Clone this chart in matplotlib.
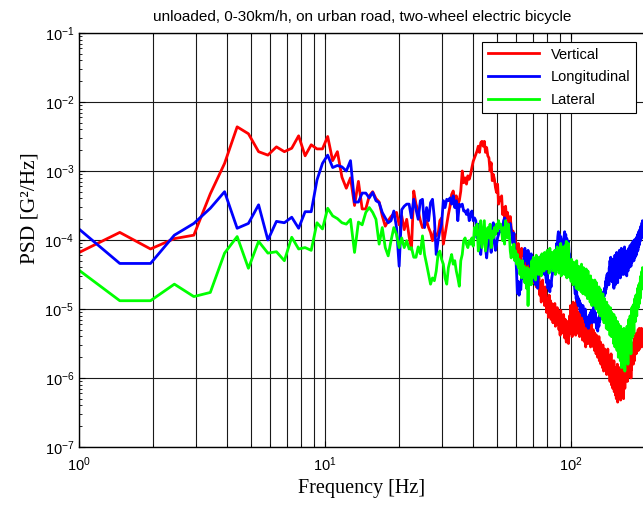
import numpy as np
import matplotlib
matplotlib.use("Agg")
import matplotlib.pyplot as plt

plt.rcParams['font.family'] = ['Liberation Sans', 'DejaVu Sans']
plt.rcParams['mathtext.default'] = 'regular'

# frequency bins: k * df, k = 2..401, df = 500/1024 Hz
df = 500 / 1024
k_bins = np.arange(2, 402)

# log10(PSD), 10 bins per row
vertical_log = [
    -4.20, -3.89, -4.13, -3.98, -3.93, -3.33, -2.89, -2.36, -2.46, -2.72,
    -2.77, -2.65, -2.72, -2.67, -2.49, -2.78, -2.62, -2.68, -2.68, -2.50,
    -2.85, -2.72, -3.09, -3.25, -3.10, -3.50, -3.15, -3.55, -3.55, -3.36,
    -3.30, -3.40, -3.45, -3.65, -3.80, -3.72, -3.66, -3.62, -3.60, -3.78,
    -3.65, -3.85, -3.70, -3.95, -4.14, -3.29, -3.48, -3.58, -3.72, -3.82,
    -3.80, -3.72, -3.82, -3.89, -4.01, -3.87, -3.94, -3.92, -3.72, -3.68,
    -4.06, -3.92, -3.77, -3.63, -3.51, -3.34, -3.29, -3.43, -3.36, -3.48,
    -3.43, -3.29, -3.00, -3.17, -3.10, -3.19, -3.07, -3.12, -3.05, -2.95,
    -2.86, -2.81, -2.76, -2.71, -2.64, -2.73, -2.59, -2.57, -2.64, -2.57,
    -2.73, -2.66, -2.78, -2.81, -3.00, -2.88, -3.14, -3.05, -3.12, -3.24,
    -3.31, -3.19, -3.48, -3.39, -3.43, -3.36, -3.63, -3.53, -3.70, -3.51,
    -3.68, -3.60, -3.72, -3.77, -3.66, -3.82, -3.94, -3.87, -4.01, -3.92,
    -4.10, -4.28, -4.15, -4.05, -4.25, -4.18, -4.30, -4.12, -4.22, -4.15,
    -4.22, -4.40, -4.18, -4.35, -4.28, -4.45, -4.20, -4.38, -4.30, -4.48,
    -4.30, -4.55, -4.40, -4.62, -4.35, -4.50, -4.68, -4.42, -4.58, -4.45,
    -4.55, -4.80, -4.62, -4.90, -4.70, -4.58, -4.85, -4.72, -4.95, -4.68,
    -4.78, -5.05, -4.85, -4.95, -5.12, -4.80, -5.00, -4.88, -5.15, -4.92,
    -4.95, -5.20, -5.00, -5.10, -4.92, -5.25, -5.05, -5.15, -4.98, -5.22,
    -5.05, -5.30, -5.10, -5.38, -5.02, -5.20, -5.35, -5.12, -5.25, -5.08,
    -5.20, -5.42, -5.15, -5.35, -5.48, -5.25, -5.40, -5.18, -5.50, -5.30,
    -5.10, -5.35, -4.95, -5.25, -5.05, -5.40, -5.15, -4.90, -5.30, -5.12,
    -5.25, -5.00, -5.38, -5.10, -4.85, -5.20, -5.35, -5.05, -5.30, -5.15,
    -5.40, -5.15, -5.30, -5.05, -5.35, -5.20, -5.45, -5.18, -5.32, -5.10,
    -5.25, -5.48, -5.30, -5.55, -5.22, -5.40, -5.50, -5.28, -5.45, -5.35,
    -5.50, -5.25, -5.45, -5.30, -5.55, -5.35, -5.20, -5.48, -5.38, -5.52,
    -5.30, -5.55, -5.40, -5.60, -5.35, -5.50, -5.42, -5.65, -5.38, -5.55,
    -5.45, -5.70, -5.50, -5.62, -5.40, -5.75, -5.55, -5.68, -5.48, -5.80,
    -5.55, -5.78, -5.60, -5.85, -5.52, -5.70, -5.90, -5.62, -5.75, -5.58,
    -5.85, -5.60, -5.80, -5.68, -5.95, -5.65, -5.82, -5.58, -5.90, -5.72,
    -5.70, -5.95, -5.78, -6.05, -5.72, -5.90, -5.65, -6.10, -5.85, -5.98,
    -5.80, -6.15, -5.88, -6.05, -5.75, -6.20, -5.92, -6.10, -5.85, -6.25,
    -5.90, -6.30, -5.95, -6.15, -5.80, -6.35, -6.00, -6.22, -5.88, -6.10,
    -6.28, -5.85, -6.15, -5.95, -6.32, -5.90, -6.05, -5.78, -6.20, -6.00,
    -5.85, -6.18, -5.92, -6.30, -5.80, -6.05, -5.75, -6.15, -5.90, -6.02,
    -5.75, -6.00, -5.70, -5.95, -5.65, -6.05, -5.80, -5.92, -5.68, -5.98,
    -5.70, -5.90, -5.62, -5.95, -5.75, -5.85, -5.60, -6.00, -5.72, -5.88,
    -5.55, -5.78, -5.50, -5.72, -5.60, -5.80, -5.48, -5.70, -5.58, -5.75,
    -5.42, -5.62, -5.38, -5.58, -5.45, -5.65, -5.35, -5.55, -5.40, -5.60,
    -5.35, -5.55, -5.30, -5.60, -5.40, -5.50, -5.28, -5.58, -5.38, -5.52,
    -5.30, -5.50, -5.35, -5.45, -5.28, -5.55, -5.32, -5.48, -5.38, -5.42,
]

longitudinal_log = [
    -3.81, -4.34, -4.34, -3.93, -3.76, -3.54, -3.30, -3.83, -3.76, -3.49,
    -4.00, -3.73, -3.75, -3.67, -3.83, -3.59, -3.59, -3.13, -2.89, -2.77,
    -2.95, -2.92, -2.94, -3.00, -2.85, -3.45, -3.45, -3.32, -3.32, -3.39,
    -3.31, -3.43, -3.46, -3.60, -3.68, -3.75, -3.72, -3.58, -3.82, -4.38,
    -3.56, -3.51, -3.48, -3.48, -3.68, -3.41, -3.56, -3.70, -3.43, -3.41,
    -3.82, -3.53, -3.72, -3.46, -3.41, -3.68, -4.21, -4.01, -3.87, -3.77,
    -3.43, -3.53, -3.41, -3.43, -3.39, -3.48, -3.36, -3.53, -3.43, -3.72,
    -3.48, -3.51, -3.48, -3.58, -3.58, -3.63, -3.56, -3.72, -3.63, -3.58,
    -3.72, -3.68, -3.72, -3.97, -3.77, -4.11, -4.21, -4.01, -3.87, -4.01,
    -4.11, -4.26, -4.06, -3.92, -4.01, -4.18, -3.80, -3.75, -4.05, -4.15,
    -4.06, -3.97, -3.92, -3.87, -3.87, -3.82, -3.82, -3.72, -3.68, -3.72,
    -3.77, -3.82, -3.87, -3.78, -3.76, -3.85, -3.95, -4.05, -3.90, -4.15,
    -4.20, -4.45, -4.77, -4.60, -4.80, -4.65, -4.72, -4.50, -4.55, -4.34,
    -4.25, -4.12, -4.30, -4.18, -4.35, -4.15, -4.28, -4.22, -4.38, -4.20,
    -4.32, -4.50, -4.42, -4.60, -4.48, -4.65, -4.52, -4.58, -4.70, -4.45,
    -4.35, -4.25, -4.40, -4.22, -4.38, -4.30, -4.45, -4.35, -4.50, -4.42,
    -4.55, -4.62, -4.50, -4.70, -4.58, -4.65, -4.75, -4.60, -4.68, -4.55,
    -4.50, -4.38, -4.45, -4.28, -4.32, -4.15, -4.22, -4.05, -4.10, -3.95,
    -3.88, -3.98, -3.92, -4.05, -3.95, -4.12, -4.00, -4.15, -4.08, -4.02,
    -3.95, -3.88, -4.05, -3.92, -4.10, -3.98, -4.05, -4.15, -4.02, -4.18,
    -4.20, -4.30, -4.38, -4.45, -4.40, -4.55, -4.58, -4.50, -4.65, -4.62,
    -4.70, -4.78, -4.72, -4.85, -4.75, -4.90, -4.82, -4.95, -4.85, -4.92,
    -4.88, -5.02, -4.92, -5.05, -4.95, -5.00, -5.10, -4.95, -5.08, -5.02,
    -5.05, -5.15, -5.00, -5.20, -5.10, -5.25, -5.12, -5.22, -5.18, -5.28,
    -5.15, -5.22, -5.08, -5.18, -5.05, -5.15, -5.02, -5.12, -5.20, -5.05,
    -5.00, -5.10, -4.95, -5.08, -5.15, -5.05, -5.20, -5.12, -5.28, -5.18,
    -5.25, -5.32, -5.22, -5.15, -5.25, -5.10, -5.18, -5.02, -5.08, -4.95,
    -4.92, -4.98, -4.85, -4.90, -4.80, -4.88, -4.75, -4.82, -4.70, -4.72,
    -4.78, -4.60, -4.72, -4.55, -4.68, -4.50, -4.65, -4.48, -4.62, -4.55,
    -4.65, -4.40, -4.58, -4.30, -4.52, -4.25, -4.48, -4.35, -4.60, -4.32,
    -4.55, -4.28, -4.62, -4.35, -4.70, -4.30, -4.52, -4.22, -4.65, -4.40,
    -4.25, -4.58, -4.18, -4.48, -4.30, -4.62, -4.20, -4.52, -4.28, -4.45,
    -4.15, -4.48, -4.25, -4.55, -4.20, -4.42, -4.12, -4.50, -4.28, -4.38,
    -4.18, -4.45, -4.22, -4.50, -4.15, -4.38, -4.10, -4.42, -4.25, -4.35,
    -4.20, -4.48, -4.28, -4.52, -4.22, -4.40, -4.15, -4.45, -4.30, -4.38,
    -4.12, -4.40, -4.18, -4.35, -4.08, -4.30, -4.15, -4.38, -4.10, -4.25,
    -4.05, -4.32, -4.12, -4.28, -4.02, -4.25, -4.10, -4.30, -4.00, -4.22,
    -4.02, -4.25, -4.08, -4.20, -3.98, -4.22, -4.05, -4.18, -3.95, -4.15,
    -3.92, -4.15, -3.98, -4.10, -3.88, -4.08, -3.95, -4.05, -3.85, -4.02,
    -3.88, -3.95, -3.80, -3.98, -3.82, -3.90, -3.75, -3.85, -3.72, -3.78,
]

lateral_log = [
    -4.41, -4.88, -4.88, -4.64, -4.82, -4.76, -4.19, -3.95, -4.41, -4.02,
    -4.19, -4.17, -4.30, -3.96, -4.13, -4.11, -4.15, -3.75, -3.84, -3.54,
    -3.65, -3.69, -3.75, -3.77, -3.70, -4.18, -3.74, -3.78, -3.60, -3.53,
    -3.60, -3.70, -4.06, -3.82, -4.11, -4.23, -4.01, -3.82, -3.92, -4.11,
    -3.97, -4.11, -4.01, -4.13, -4.11, -4.25, -4.25, -4.10, -4.20, -3.94,
    -4.21, -4.35, -4.50, -4.64, -4.55, -4.59, -4.45, -4.21, -4.16, -4.28,
    -4.35, -4.55, -4.64, -4.40, -4.30, -4.21, -4.35, -4.30, -4.45, -4.55,
    -4.67, -4.30, -4.21, -4.01, -3.97, -4.06, -4.11, -4.01, -4.06, -3.97,
    -4.09, -3.82, -3.92, -3.77, -4.16, -3.97, -3.72, -4.11, -3.92, -3.72,
    -4.16, -4.01, -3.82, -3.97, -3.77, -4.11, -3.87, -3.97, -3.82, -3.92,
    -3.77, -3.87, -3.72, -3.82, -3.77, -3.87, -4.01, -3.82, -4.06, -3.72,
    -3.82, -3.97, -3.77, -3.92, -4.16, -4.26, -4.11, -4.21, -4.06, -4.30,
    -4.16, -4.35, -4.21, -4.40, -4.28, -4.50, -4.35, -4.55, -4.30, -4.48,
    -4.38, -4.62, -4.45, -4.70, -4.40, -4.95, -4.52, -4.60, -4.42, -4.65,
    -4.30, -4.55, -4.25, -4.48, -4.35, -4.58, -4.22, -4.45, -4.32, -4.50,
    -4.25, -4.48, -4.30, -4.52, -4.20, -4.42, -4.28, -4.45, -4.18, -4.38,
    -4.20, -4.42, -4.15, -4.38, -4.25, -4.48, -4.12, -4.35, -4.22, -4.40,
    -4.18, -4.45, -4.25, -4.40, -4.15, -4.50, -4.22, -4.38, -4.10, -4.42,
    -4.20, -4.48, -4.15, -4.40, -4.05, -4.52, -4.25, -4.35, -4.10, -4.45,
    -4.22, -4.50, -4.08, -4.38, -4.02, -4.55, -4.20, -4.42, -4.05, -4.35,
    -4.30, -4.55, -4.35, -4.60, -4.28, -4.52, -4.38, -4.65, -4.32, -4.58,
    -4.35, -4.62, -4.40, -4.70, -4.30, -4.58, -4.45, -4.72, -4.38, -4.60,
    -4.42, -4.68, -4.45, -4.75, -4.35, -4.62, -4.50, -4.78, -4.40, -4.65,
    -4.48, -4.72, -4.50, -4.80, -4.42, -4.68, -4.55, -4.85, -4.45, -4.70,
    -4.55, -4.82, -4.60, -4.90, -4.52, -4.78, -4.65, -4.95, -4.58, -4.80,
    -4.62, -4.88, -4.65, -4.95, -4.58, -4.85, -4.70, -5.00, -4.62, -4.90,
    -4.70, -5.00, -4.75, -5.05, -4.68, -4.95, -4.80, -5.10, -4.72, -5.02,
    -4.82, -5.10, -4.85, -5.15, -4.78, -5.05, -4.92, -5.20, -4.85, -5.12,
    -4.92, -5.20, -4.95, -5.28, -4.90, -5.15, -5.02, -5.30, -4.95, -5.22,
    -5.00, -5.30, -5.05, -5.38, -4.98, -5.25, -5.10, -5.40, -5.05, -5.32,
    -5.10, -5.40, -5.15, -5.50, -5.08, -5.35, -5.20, -5.55, -5.12, -5.42,
    -5.20, -5.50, -5.25, -5.60, -5.18, -5.45, -5.30, -5.70, -5.22, -5.52,
    -5.28, -5.62, -5.35, -5.75, -5.25, -5.55, -5.40, -5.85, -5.30, -5.60,
    -5.32, -5.68, -5.40, -5.82, -5.28, -5.60, -5.45, -5.90, -5.35, -5.65,
    -5.30, -5.62, -5.35, -5.75, -5.25, -5.55, -5.38, -5.80, -5.28, -5.58,
    -5.15, -5.48, -5.20, -5.60, -5.10, -5.40, -5.25, -5.65, -5.12, -5.42,
    -4.98, -5.30, -5.02, -5.40, -4.95, -5.22, -5.05, -5.35, -4.92, -5.18,
    -4.85, -5.12, -4.88, -5.18, -4.80, -5.05, -4.90, -5.10, -4.78, -5.00,
    -4.70, -4.95, -4.72, -4.98, -4.65, -4.88, -4.72, -4.92, -4.62, -4.85,
    -4.55, -4.78, -4.52, -4.72, -4.48, -4.68, -4.45, -4.62, -4.40, -4.55,
]

series_names = ['Vertical', 'Longitudinal', 'Lateral']
series_colors = ['#ff0000', '#0000ff', '#00ff00']
y_ticks = [1e-7, 1e-6, 1e-5, 1e-4, 1e-3, 1e-2, 1e-1]
x_ticks = [1, 10, 100]

freq = k_bins * df

fig = plt.figure(figsize=(6.43, 5.08), dpi=100)
W, H = 643, 508
# axes box in pixels: x 79..645, y 33..447
ax = fig.add_axes([79 / W, (H - 447) / H, 566 / W, 414 / H])
ax.set_xscale('log')
ax.set_yscale('log')

for vals, name, col in zip([vertical_log, longitudinal_log, lateral_log],
                           series_names, series_colors):
    ax.plot(freq, 10 ** np.array(vals), color=col, lw=2.0, label=name)

ax.set_xlim(1, 10 ** (566 / 246))
ax.set_ylim(1e-7, 1e-1)
ax.set_xticks(x_ticks)
ax.set_yticks(y_ticks)

ax.grid(True, which='major', axis='y', color='#1a1a1a', lw=0.8)
ax.grid(True, which='both', axis='x', color='#1a1a1a', lw=0.8)
ax.set_axisbelow(True)

ax.tick_params(which='both', direction='in', top=True, right=False,
               labelsize=10.5, colors='black')
ax.tick_params(which='major', length=4)
ax.tick_params(which='minor', length=2)
ax.tick_params(axis='x', pad=6)
for sp in ax.spines.values():
    sp.set_linewidth(1.0)
    sp.set_color('black')

ax.set_title('unloaded, 0-30km/h, on urban road, two-wheel electric bicycle',
             fontsize=11, pad=9)
ax.set_xlabel('Frequency [Hz]', fontsize=14.5, family='Liberation Serif', labelpad=4)
ax.set_ylabel('PSD [G²/Hz]', fontsize=15.5, family='Liberation Serif')
ax.yaxis.set_label_coords(-0.069, (447 - 208) / 414)

leg = ax.legend(loc='upper right', fontsize=10.5, handlelength=3.5,
                labelspacing=0.6, borderpad=0.4, fancybox=False,
                framealpha=1, edgecolor='black', borderaxespad=0.6)
leg.get_frame().set_linewidth(0.8)

fig.savefig('out.png', dpi=100)
